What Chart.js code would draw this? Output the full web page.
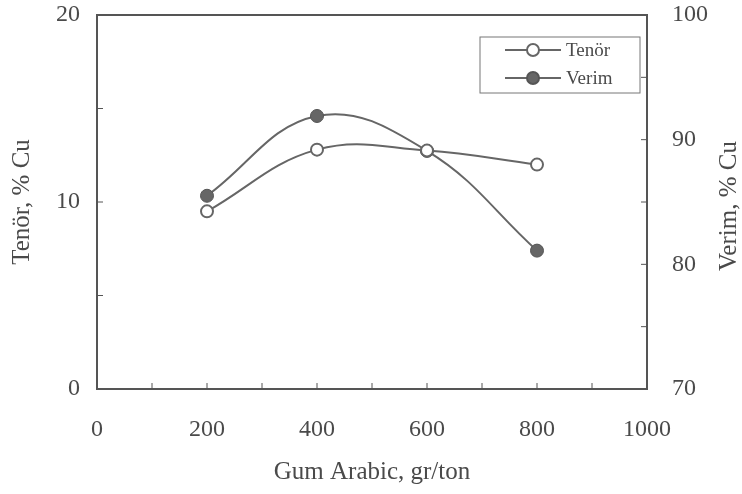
<!DOCTYPE html>
<html lang="tr">
<head>
  <meta charset="UTF-8">
  <title>Gum Arabic - Tenör / Verim</title>
  <script src="https://cdn.jsdelivr.net/npm/chart.js@4.4.0/dist/chart.umd.min.js"></script>
  <style>
    * { margin: 0; padding: 0; box-sizing: border-box; }
    body { background: #fff; width: 742px; height: 494px; overflow: hidden; }
    canvas { display: block; }
  </style>
</head>
<body>
  <canvas id="grafik" width="742" height="494"></canvas>

  <script>
    // Veriler
    const dozaj = [200, 400, 600, 800];          // Gum Arabic, gr/ton
    const tenor = [9.5, 12.8, 12.75, 12.0];      // Tenör, % Cu (sol eksen)
    const verim = [85.5, 91.9, 89.1, 81.1];      // Verim, % Cu (sağ eksen)
    const xTicks = [0, 200, 400, 600, 800, 1000];
    const solTicks = [0, 10, 20];
    const sagTicks = [70, 80, 90, 100];

    const yazi = '#4a4a4a';
    const cizgi = '#666';
    const font = '"Liberation Serif", "Times New Roman", serif';

    // Çerçeve, içe doğru çentikler, sağ eksen başlığı ve lejant
    const cerceve = {
      id: 'cerceve',
      afterDatasetsDraw(chart) {
        const { ctx, chartArea: a, scales } = chart;
        ctx.save();
        ctx.strokeStyle = '#555';
        ctx.lineWidth = 2;
        ctx.strokeRect(a.left, a.top, a.right - a.left, a.bottom - a.top);
        ctx.lineWidth = 1;
        ctx.beginPath();
        for (let v = 100; v < 1000; v += 100) {
          const px = scales.x.getPixelForValue(v);
          ctx.moveTo(px, a.bottom); ctx.lineTo(px, a.bottom - 6);
        }
        for (let v = 5; v < 20; v += 5) {
          const py = scales.y.getPixelForValue(v);
          ctx.moveTo(a.left, py); ctx.lineTo(a.left + 6, py);
        }
        for (let v = 75; v < 100; v += 5) {
          const py = scales.y2.getPixelForValue(v);
          ctx.moveTo(a.right, py); ctx.lineTo(a.right - 6, py);
        }
        ctx.stroke();

        // Sağ eksen başlığı (aşağıdan yukarı okunur)
        ctx.save();
        ctx.translate(729, (a.top + a.bottom) / 2 + 4);
        ctx.rotate(-Math.PI / 2);
        ctx.fillStyle = yazi;
        ctx.font = '25px ' + font;
        ctx.textAlign = 'center';
        ctx.textBaseline = 'middle';
        ctx.fillText('Verim, % Cu', 0, 0);
        ctx.restore();

        // Lejant
        const lx = 480, ly = 37, lw = 160, lh = 56;
        ctx.strokeStyle = '#777';
        ctx.lineWidth = 1;
        ctx.strokeRect(lx, ly, lw, lh);
        chart.data.datasets.forEach((ds, i) => {
          const y = ly + 13 + i * 28;
          ctx.strokeStyle = ds.borderColor;
          ctx.lineWidth = 2;
          ctx.beginPath(); ctx.moveTo(505, y); ctx.lineTo(561, y); ctx.stroke();
          ctx.beginPath(); ctx.arc(533, y, 6, 0, Math.PI * 2);
          ctx.fillStyle = ds.pointBackgroundColor; ctx.fill();
          ctx.strokeStyle = ds.pointBorderColor; ctx.stroke();
          ctx.fillStyle = yazi;
          ctx.font = '19px ' + font;
          ctx.textBaseline = 'middle';
          ctx.fillText(ds.label, 566, y + 1);
        });
        ctx.restore();
      }
    };

    // Dikey eksenlerin genişliği sabit, etiket taşma payı yok
    const dikeyFit = w => s => {
      s.width = w;
      s.paddingTop = 0;
      s.paddingBottom = 0;
    };

    new Chart(document.getElementById('grafik'), {
      type: 'line',
      data: {
        labels: dozaj,
        datasets: [
          {
            label: 'Tenör',
            data: dozaj.map((x, i) => ({ x, y: tenor[i] })),
            yAxisID: 'y',
            borderColor: cizgi,
            borderWidth: 2,
            tension: 0.4,
            pointRadius: 6,
            pointBorderWidth: 2,
            pointBackgroundColor: '#fff',
            pointBorderColor: cizgi,
          },
          {
            label: 'Verim',
            data: dozaj.map((x, i) => ({ x, y: verim[i] })),
            yAxisID: 'y2',
            borderColor: cizgi,
            borderWidth: 2,
            tension: 0.4,
            pointRadius: 6.5,
            pointBorderWidth: 1,
            pointBackgroundColor: '#666',
            pointBorderColor: '#555',
          }
        ]
      },
      options: {
        responsive: false,
        animation: false,
        layout: { padding: { top: 15, left: 0, right: 0, bottom: 0 } },
        plugins: { legend: { display: false }, tooltip: { enabled: false } },
        scales: {
          x: {
            type: 'linear', min: 0, max: 1000,
            afterBuildTicks: s => { s.ticks = xTicks.map(v => ({ value: v })); },
            afterFit: s => { s.height = 105; s.paddingLeft = 0; s.paddingRight = 0; },
            grid: { display: false, drawTicks: false },
            border: { display: false },
            ticks: { color: yazi, font: { family: font, size: 24 }, padding: 26, maxRotation: 0, callback: v => String(v) },
            title: { display: true, text: 'Gum Arabic, gr/ton', color: yazi, font: { family: font, size: 25 }, padding: { top: 0, bottom: 7 } }
          },
          y: {
            position: 'left', min: 0, max: 20,
            afterBuildTicks: s => { s.ticks = solTicks.map(v => ({ value: v })); },
            afterFit: dikeyFit(97),
            grid: { display: false, drawTicks: false },
            border: { display: false },
            ticks: { color: yazi, font: { family: font, size: 24 }, padding: 17, callback: v => String(v) },
            title: { display: true, text: 'Tenör, % Cu', color: yazi, font: { family: font, size: 25 }, padding: { top: 7, bottom: 0 } }
          },
          y2: {
            position: 'right', min: 70, max: 100,
            afterBuildTicks: s => { s.ticks = sagTicks.map(v => ({ value: v })); },
            afterFit: dikeyFit(95),
            grid: { display: false, drawTicks: false },
            border: { display: false },
            ticks: { color: yazi, font: { family: font, size: 24 }, padding: 25, callback: v => String(v) },
            title: { display: false }
          }
        }
      },
      plugins: [cerceve]
    });
  </script>
</body>
</html>
